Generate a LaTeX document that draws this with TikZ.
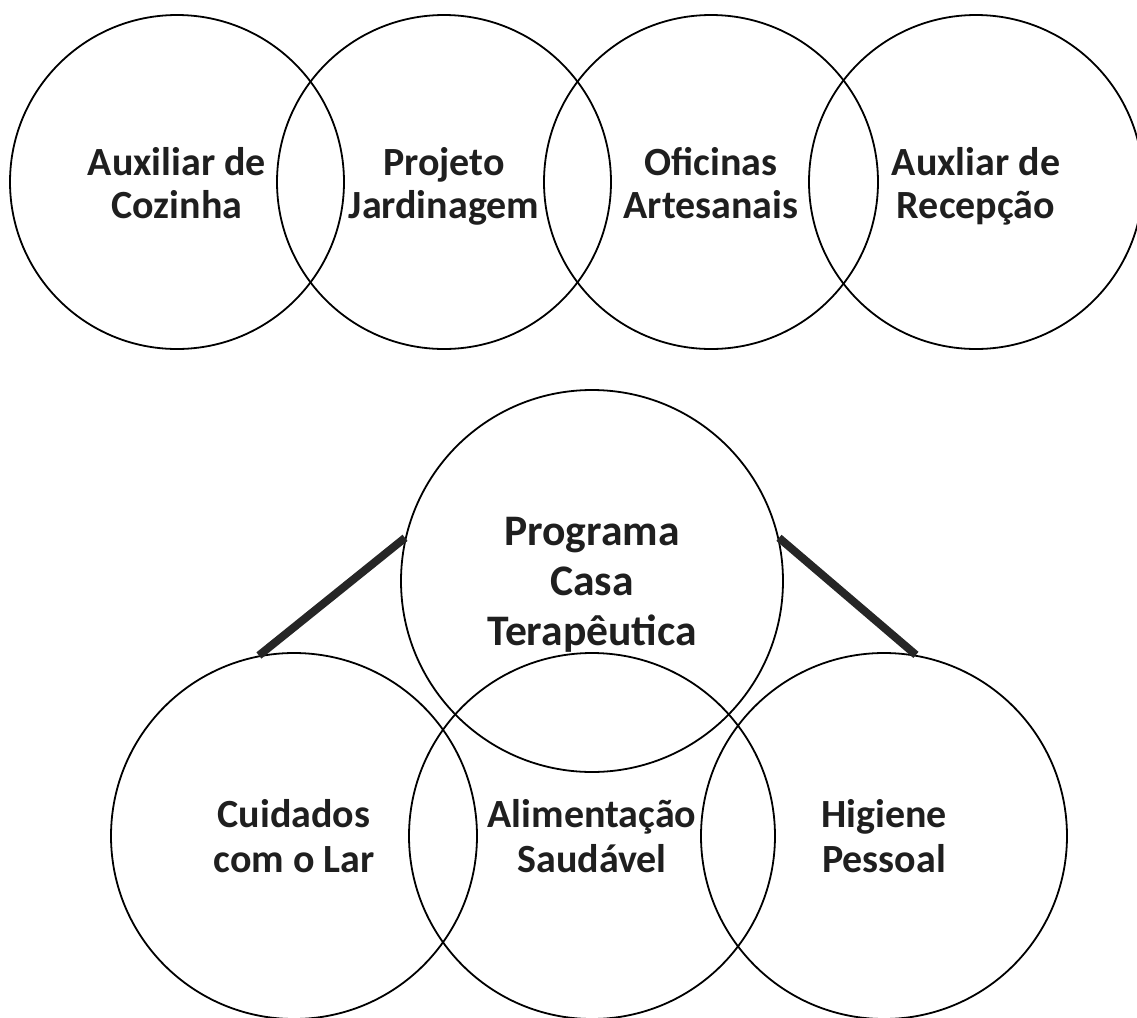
\documentclass[tikz,border=0pt]{standalone}
\usepackage{fontspec}
\setmainfont{Carlito}
\usetikzlibrary{positioning}

\begin{document}
\begin{tikzpicture}[x=0.5pt, y=-0.5pt,
    bubble/.style={circle, draw, line width=0.9pt, inner sep=0pt},
    txt/.style={align=center, inner sep=0pt, text=black!88,
        font=\bfseries\fontsize{20}{21.5}\selectfont,
        execute at begin node=\strut, execute at end node=\strut},
    link/.style={line width=4pt, black!85},
    ]
\useasboundingbox (0,0) rectangle (1137,1018);

    % top row of projects
    \foreach \cx/\lbl [count=\i] in {177/{Auxiliar de\\Cozinha}, 444/{Projeto\\Jardinagem},
        711/{Oficinas\\Artesanais}, 976/{Auxliar de\\Recepção}}
    {
    \node[bubble, minimum size=167pt] (A-\i) at (\cx,182) {};
    \node[txt] (A-\i-txt) at (\cx,189) {\lbl};
    }

    % program and its three parts
    \node[bubble, minimum size=191pt] (prog) at (592,581) {};
    \node[txt, font=\bfseries\fontsize{21.8}{25}\selectfont] (prog-txt) at (592,589)
        {Programa\\Casa\\Terapêutica};
    \node[bubble, minimum size=183pt] (lar) at (294,836) {};
    \node[txt, font=\bfseries\fontsize{20}{22.5}\selectfont] (lar-txt) at (294,843)
        {Cuidados\\com o Lar};
    \node[bubble, minimum size=183pt] (alim) at (592,836) {};
    \node[txt, font=\bfseries\fontsize{20}{22.5}\selectfont] (alim-txt) at (592,843)
        {Alimentação\\Saudável};
    \node[bubble, minimum size=183pt] (hig) at (884,836) {};
    \node[txt, font=\bfseries\fontsize{20}{22.5}\selectfont] (hig-txt) at (884,843)
        {Higiene\\Pessoal};

    \draw[link] (prog.167) -- (lar.101);
    \draw[link] (prog.13) -- (hig.80);

\end{tikzpicture}
\end{document}
